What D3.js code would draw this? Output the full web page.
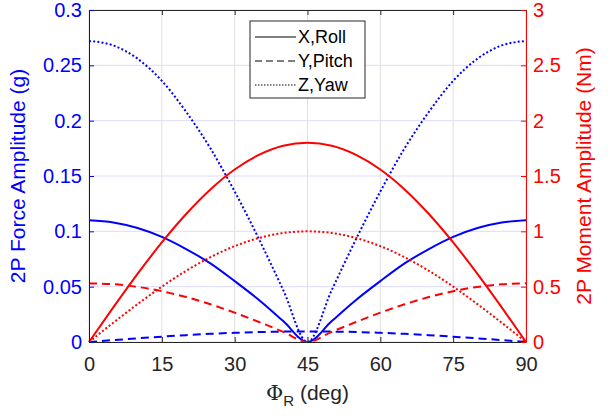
<!DOCTYPE html>
<html>
<head>
<meta charset="utf-8">
<script src="https://cdn.jsdelivr.net/npm/d3@7"></script>
<style>
  body { margin: 0; background: #fff; }
  text { font-family: "Liberation Sans", Arial, Helvetica, sans-serif; }
</style>
</head>
<body>
<div id="chart"></div>
<script>
// roll angle samples (deg)
var phi = [0, 5, 10, 15, 20, 25, 30, 35, 40, 45, 50, 55, 60, 65, 70, 75, 80, 85, 90];

// 2P force amplitude (g), left axis
var forceX = [0.110, 0.108, 0.103, 0.095, 0.084, 0.071, 0.055, 0.038, 0.019, 0.000, 0.019, 0.038, 0.055, 0.071, 0.084, 0.095, 0.103, 0.108, 0.110];
var forceY = [0.000, 0.0017, 0.0033, 0.0048, 0.0062, 0.0074, 0.0083, 0.0090, 0.0094, 0.0095, 0.0094, 0.0090, 0.0083, 0.0074, 0.0062, 0.0048, 0.0033, 0.0017, 0.000];
var forceZ = [0.272, 0.268, 0.256, 0.236, 0.208, 0.175, 0.136, 0.093, 0.047, 0.000, 0.047, 0.093, 0.136, 0.175, 0.208, 0.236, 0.256, 0.268, 0.272];

// 2P moment amplitude (Nm), right axis
var momentX = [0.000, 0.313, 0.616, 0.900, 1.157, 1.379, 1.559, 1.691, 1.773, 1.800, 1.773, 1.691, 1.559, 1.379, 1.157, 0.900, 0.616, 0.313, 0.000];
var momentY = [0.530, 0.522, 0.498, 0.459, 0.406, 0.341, 0.265, 0.181, 0.092, 0.000, 0.092, 0.181, 0.265, 0.341, 0.406, 0.459, 0.498, 0.522, 0.530];
var momentZ = [0.000, 0.174, 0.342, 0.500, 0.643, 0.766, 0.866, 0.940, 0.985, 1.000, 0.985, 0.940, 0.866, 0.766, 0.643, 0.500, 0.342, 0.174, 0.000];

var xTicks = [0, 15, 30, 45, 60, 75, 90];
var leftTicks = [0, 0.05, 0.1, 0.15, 0.2, 0.25, 0.3];
var rightTicks = [0, 0.5, 1, 1.5, 2, 2.5, 3];
var legendNames = ["X,Roll", "Y,Pitch", "Z,Yaw"];

var width = 610, height = 417;
var margin = {left: 89, right: 84, top: 10, bottom: 75};
var blue = "#0000ff", red = "#ff0000", dark = "#262626";
var dashes = [null, "8,5", "2,2.2"];

var svg = d3.select("#chart").append("svg")
  .attr("width", width)
  .attr("height", height);

var x = d3.scaleLinear().domain([0, 90]).range([margin.left, width - margin.right]);
var yL = d3.scaleLinear().domain([0, 0.3]).range([height - margin.bottom, margin.top]);
var yR = d3.scaleLinear().domain([0, 3]).range([height - margin.bottom, margin.top]);

var x0 = x.range()[0], x1 = x.range()[1];
var yb = yL.range()[0], yt = yL.range()[1];

// grid
svg.append("g").selectAll("line").data(xTicks).join("line")
  .attr("x1", function(d) { return x(d); }).attr("x2", function(d) { return x(d); })
  .attr("y1", yt).attr("y2", yb)
  .attr("stroke", "#dfdfdf").attr("stroke-width", 1);
svg.append("g").selectAll("line").data(leftTicks).join("line")
  .attr("x1", x0).attr("x2", x1)
  .attr("y1", function(d) { return yL(d); }).attr("y2", function(d) { return yL(d); })
  .attr("stroke", "#dcdcfb").attr("stroke-width", 1);

// curves
function curve(ys, scale) {
  return d3.line()
    .x(function(d, i) { return x(phi[i]); })
    .y(function(d) { return scale(d); })
    .curve(d3.curveMonotoneX)(ys);
}
var series = [
  {v: forceX, s: yL, c: blue, k: 0},
  {v: forceY, s: yL, c: blue, k: 1},
  {v: forceZ, s: yL, c: blue, k: 2},
  {v: momentX, s: yR, c: red, k: 0},
  {v: momentY, s: yR, c: red, k: 1},
  {v: momentZ, s: yR, c: red, k: 2}
];
series.forEach(function(d) {
  svg.append("path")
    .attr("d", curve(d.v, d.s))
    .attr("fill", "none")
    .attr("stroke", d.c)
    .attr("stroke-width", 2)
    .attr("stroke-dasharray", dashes[d.k]);
});

// axes
var gx = svg.append("g").attr("transform", "translate(0," + yb + ")")
  .call(d3.axisBottom(x).tickValues(xTicks).tickSizeInner(-5).tickSizeOuter(0).tickPadding(15));
gx.select(".domain").attr("stroke", dark);
gx.selectAll(".tick line").attr("stroke", dark);
gx.selectAll("text").attr("fill", dark).attr("font-size", 20);

var gxt = svg.append("g").attr("transform", "translate(0," + yt + ")")
  .call(d3.axisTop(x).tickValues(xTicks).tickSizeInner(-5).tickSizeOuter(0).tickFormat(""));
gxt.select(".domain").attr("stroke", dark);
gxt.selectAll(".tick line").attr("stroke", dark);

var gl = svg.append("g").attr("transform", "translate(" + x0 + ",0)")
  .call(d3.axisLeft(yL).tickValues(leftTicks).tickSizeInner(-5).tickSizeOuter(0).tickPadding(7).tickFormat(d3.format("~g")));
gl.select(".domain").attr("stroke", blue);
gl.selectAll(".tick line").attr("stroke", blue);
gl.selectAll("text").attr("fill", blue).attr("font-size", 20);

var gr = svg.append("g").attr("transform", "translate(" + x1 + ",0)")
  .call(d3.axisRight(yR).tickValues(rightTicks).tickSizeInner(-5).tickSizeOuter(0).tickPadding(7).tickFormat(d3.format("~g")));
gr.select(".domain").attr("stroke", red);
gr.selectAll(".tick line").attr("stroke", red);
gr.selectAll("text").attr("fill", red).attr("font-size", 20);

// axis labels
var xl = svg.append("text")
  .attr("x", x(45)).attr("y", 400)
  .attr("text-anchor", "middle")
  .attr("font-size", 21)
  .attr("fill", dark);
xl.append("tspan").attr("font-family", "DejaVu Serif").text("Φ");
xl.append("tspan").attr("font-size", 15).attr("dy", 6).text("R");
xl.append("tspan").attr("dy", -6).text(" (deg)");

svg.append("text")
  .attr("transform", "translate(25," + (yt + yb) / 2 + ") rotate(-90)")
  .attr("text-anchor", "middle")
  .attr("font-size", 21)
  .attr("fill", blue)
  .text("2P Force Amplitude (g)");

svg.append("text")
  .attr("transform", "translate(591," + (yt + yb) / 2 + ") rotate(-90)")
  .attr("text-anchor", "middle")
  .attr("font-size", 21)
  .attr("fill", red)
  .text("2P Moment Amplitude (Nm)");

// legend
var lg = svg.append("g").attr("transform", "translate(250,21)");
lg.append("rect")
  .attr("width", 115).attr("height", 77)
  .attr("fill", "#fff").attr("stroke", dark).attr("stroke-width", 1);
legendNames.forEach(function(name, i) {
  var yy = 16 + i * 24;
  lg.append("line")
    .attr("x1", 5).attr("x2", 46).attr("y1", yy).attr("y2", yy)
    .attr("stroke", "#000").attr("stroke-width", 1.2)
    .attr("stroke-dasharray", i == 0 ? null : (i == 1 ? "7,4" : "1.5,1.5"));
  lg.append("text")
    .attr("x", 48).attr("y", yy + 6)
    .attr("font-size", 18)
    .attr("fill", "#000")
    .text(name);
});
</script>
</body>
</html>
